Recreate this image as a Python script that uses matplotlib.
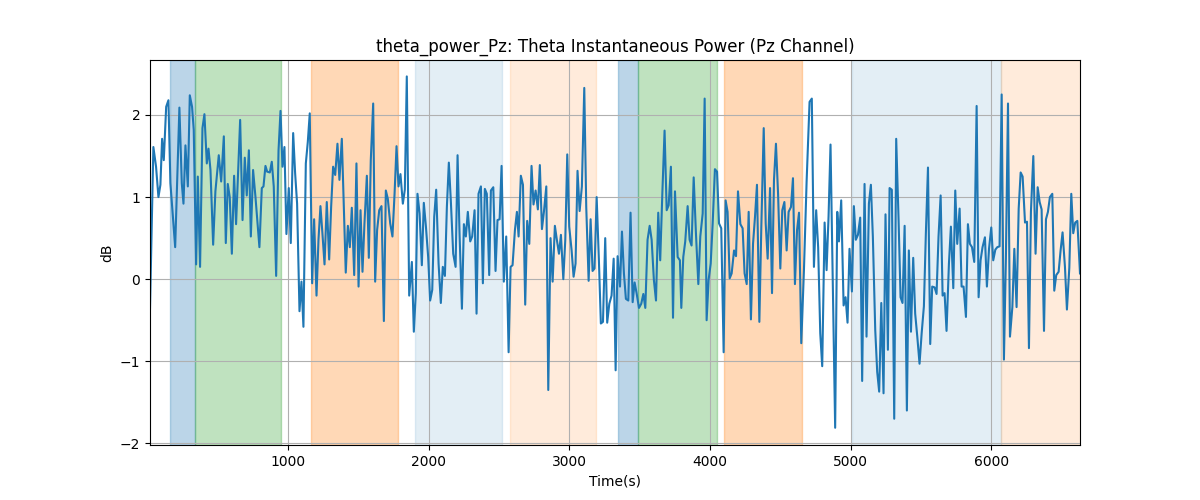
import numpy as np
import matplotlib
matplotlib.use("Agg")
import matplotlib.pyplot as plt

# time (s) and theta power (dB)
t = [18, 42, 61, 78, 92, 104, 116, 133, 149, 163, 197, 227, 244, 256, 270, 287, 301, 317, 329, 346,
     358, 374, 391, 405, 422, 434, 448, 467, 483, 507, 524, 543, 557, 571, 585, 600, 616, 630, 659, 676,
     692, 706, 721, 735, 751, 768, 796, 813, 825, 839, 851, 870, 884, 898, 915, 932, 946,
     960, 974, 988, 1005, 1019, 1036, 1050, 1064, 1081, 1095, 1109, 1126, 1140, 1154, 1171, 1185, 1202, 1216,
     1230, 1244, 1259, 1275, 1292, 1306, 1320, 1335, 1351, 1365, 1382, 1396, 1410, 1425, 1439, 1453, 1470,
     1486, 1501, 1515, 1529, 1543, 1560, 1574, 1588, 1605, 1619, 1633, 1648, 1664, 1681, 1695, 1709, 1726,
     1742, 1757, 1771, 1785, 1799, 1816, 1830, 1844, 1861,
     1880, 1894, 1908, 1920, 1935, 1951, 1965, 1980, 1996, 2010, 2025, 2039, 2053, 2070, 2086, 2100, 2115,
     2129, 2143, 2157, 2174, 2191, 2205, 2219, 2236, 2250, 2264, 2278, 2295, 2309, 2326, 2340, 2354, 2371,
     2385, 2399, 2413, 2430, 2442, 2459, 2475, 2489, 2504, 2518, 2534, 2551, 2568, 2582, 2596, 2613, 2627,
     2639, 2655, 2670, 2686, 2700, 2715, 2731, 2745, 2760, 2776, 2790, 2805,
     2819, 2836, 2850, 2866, 2881, 2897, 2911, 2926, 2940, 2957, 2971, 2985, 2999, 3016, 3030, 3044, 3058,
     3073, 3089, 3106, 3120, 3137, 3151, 3165, 3179, 3194, 3210, 3224, 3239, 3255, 3269, 3284, 3300, 3315,
     3329, 3343, 3360, 3374, 3388, 3402, 3419, 3435, 3450, 3464, 3478, 3495, 3511, 3526, 3540, 3556, 3571,
     3585, 3601, 3616, 3632, 3646, 3661, 3677, 3692, 3706, 3722, 3737, 3751,
     3770, 3786, 3796, 3810, 3824, 3841, 3855, 3869, 3884, 3900, 3917, 3931, 3948, 3962, 3976, 3990, 4005,
     4019, 4035, 4050, 4064, 4080, 4097, 4111, 4125, 4140, 4154, 4171, 4185, 4199, 4216, 4232, 4246, 4261,
     4275, 4291, 4306, 4320, 4334, 4351, 4365, 4382, 4396, 4410, 4427, 4441, 4455, 4469, 4484, 4500, 4514,
     4529, 4545, 4559, 4576, 4590, 4604, 4619, 4633, 4649, 4668, 4687,
     4708, 4724, 4739, 4755, 4769, 4784, 4798, 4815, 4829, 4843, 4857, 4874, 4890, 4905, 4917, 4933, 4950,
     4964, 4978, 4992, 5009, 5023, 5037, 5052, 5068, 5082, 5099, 5113, 5130, 5144, 5158, 5175, 5189, 5203,
     5218, 5234, 5248, 5265, 5277, 5293, 5310, 5324, 5341, 5355, 5369, 5384, 5400, 5414, 5429, 5445, 5459,
     5474, 5490, 5505, 5521, 5535, 5550, 5566, 5580, 5597, 5611, 5625,
     5640, 5654, 5668, 5682, 5699, 5713, 5730, 5744, 5758, 5775, 5789, 5803, 5820, 5834, 5848, 5863, 5879,
     5896, 5910, 5924, 5938, 5955, 5969, 5984, 6000, 6014, 6029, 6043, 6059, 6074, 6090, 6104, 6119, 6133,
     6150, 6164, 6180, 6195, 6209, 6223, 6240, 6254, 6268, 6282, 6299, 6315, 6330, 6344, 6358, 6375, 6389,
     6403, 6417, 6434, 6448, 6462, 6479, 6493, 6507, 6524, 6538, 6555, 6569, 6583, 6597, 6612, 6631]

power = [-0.36, 1.61, 1.37, 1.00, 1.15, 1.71, 1.45, 2.10, 2.18, 1.17, 0.39, 2.09, 1.17, 0.92, 1.63, 1.13, 2.24, 2.10, 1.82, 0.18,
         1.25, 0.15, 1.84, 2.01, 1.41, 1.59, 1.33, 0.42, 1.07, 1.51, 1.19, 1.74, 0.44, 1.16, 1.00, 0.31, 1.26, 0.67, 1.94, 0.72,
         1.48, 1.02, 1.57, 0.52, 1.33, 1.00, 0.39, 1.11, 1.13, 1.38, 1.31, 1.30, 1.43, 1.13, 0.04, 1.57, 2.05,
         1.37, 1.61, 0.55, 1.11, 0.44, 1.78, 1.29, 0.92, -0.39, -0.03, -0.58, 1.41, 1.67, 2.02, -0.05, 0.73, -0.20, 0.48,
         0.89, 0.56, 0.18, 0.94, 0.24, 0.88, 1.37, 1.27, 1.65, 1.21, 1.71, 0.88, 0.08, 0.65, 0.39, 0.87, 0.05,
         1.41, -0.09, 0.84, 0.09, 0.68, 1.26, 0.26, 1.45, 2.14, -0.03, 0.60, 0.84, 0.89, -0.51, 1.08, 0.98, 0.68,
         0.52, 1.04, 1.62, 1.13, 1.28, 0.92, 1.09, 2.47, -0.20,
         0.21, -0.64, -0.17, 1.04, 0.80, 0.17, 0.93, 0.64, 0.27, -0.26, -0.13, 0.76, 1.09, 0.19, -0.29, 0.15, 0.04,
         0.88, 1.42, 0.96, 0.31, 0.15, 1.51, 0.56, -0.36, 0.67, 0.52, 0.82, 0.46, 0.52, 0.84, -0.42, 1.04, 1.13,
         -0.05, 1.10, 1.04, 0.05, 1.08, 1.12, 0.10, 0.72, 0.73, 1.38, -0.03, 0.52, -0.89, 0.15, 0.17, 0.60, 0.82,
         0.52, 1.26, 1.15, -0.31, 0.71, 0.43, 1.38, 0.91, 1.08, 0.85, 1.39, 0.61,
         0.82, 1.13, -1.35, 0.50, -0.03, 0.65, 0.48, 0.31, 0.54, 0.00, 0.48, 1.52, 0.64, 0.35, 0.03, 0.19, 1.32,
         0.83, 1.13, 2.33, 0.88, -0.02, 0.73, 0.10, 0.13, 1.00, 0.23, -0.54, -0.52, 0.50, -0.53, -0.30, -0.20, 0.25,
         -1.11, 0.28, -0.09, 0.58, 0.07, -0.24, -0.26, 0.81, -0.28, -0.04, -0.17, -0.35, -0.30, -0.18, -0.35, 0.48, 0.65,
         0.48, -0.01, -0.26, 0.81, 0.23, 1.04, 1.81, 0.84, 0.90, 1.37, -0.47, 1.07,
         0.27, 0.23, -0.35, 0.27, 0.46, 0.89, 0.48, 0.41, 1.24, 0.56, -0.06, 0.52, 0.80, 2.20, -0.50, -0.01, 0.19,
         0.68, 1.34, 1.31, 0.68, 0.62, -0.89, 0.96, 0.82, 0.01, 0.07, 0.35, 0.28, 1.07, 0.67, 0.62, 0.07, -0.06,
         0.82, -0.49, 0.43, 0.76, 1.15, -0.52, 0.64, 1.84, 0.68, 0.25, 1.11, -0.17, 1.21, 1.65, 1.04, 0.13, 0.84,
         0.94, 0.35, 0.82, 0.88, 1.23, -0.06, 0.60, 0.81, -0.78, 0.11, 1.19,
         2.16, 2.20, 0.15, 0.84, 0.39, -0.66, -1.06, 0.69, 0.11, 0.76, 1.64, -0.13, -1.81, 0.82, 0.46, 0.96, -0.32,
         -0.22, -0.53, 0.37, -0.15, 0.89, 0.48, 0.54, 0.75, -1.24, 1.16, -0.70, 0.92, 1.15, 0.52, -0.62, -1.13, -1.37,
         -0.29, -1.39, 0.79, -0.86, 1.11, 1.09, -1.70, 1.71, 0.72, -0.22, -0.29, 0.65, -1.60, 0.35, -0.64, 0.26, -0.42,
         -0.70, -1.03, -0.66, -0.33, 0.56, 1.36, -0.79, -0.09, -0.10, -0.18, 0.52,
         1.02, -0.20, -0.17, -0.63, 0.19, 0.64, -0.11, 1.08, 0.43, 0.86, -0.09, -0.09, -0.46, 0.67, 0.43, 0.39, 0.21,
         2.11, -0.22, 0.23, 0.39, 0.51, -0.09, 0.37, 0.63, 0.23, 0.36, 0.39, 0.40, 2.25, -0.98, 0.25, 2.14, -0.70,
         -0.34, 0.37, -0.34, 0.86, 1.30, 1.25, 0.69, 0.70, -0.84, 0.82, 1.50, 0.31, 1.12, 0.94, 0.85, -0.63, 0.73,
         0.82, 1.00, 1.04, -0.14, 0.05, 0.09, 0.35, 0.57, 0.15, -0.37, 0.14, 1.04, 0.56, 0.69, 0.71, 0.07]

# shaded segments: start, end, colour, alpha
span_start = [158, 338, 1161, 1901, 2576, 3345, 3489, 4099, 5011, 6071]
span_end = [338, 946, 1785, 2518, 3186, 3489, 4047, 4651, 6071, 6640]
span_color = ['tab:blue', 'tab:green', 'tab:orange', 'tab:blue', 'tab:orange',
              'tab:blue', 'tab:green', 'tab:orange', 'tab:blue', 'tab:orange']
span_alpha = [0.3, 0.3, 0.3, 0.12, 0.15, 0.3, 0.3, 0.3, 0.12, 0.15]

fig, ax = plt.subplots(figsize=(12, 5), dpi=100)
for s, e, c, a in zip(span_start, span_end, span_color, span_alpha):
    ax.axvspan(s, e, color=c, alpha=a)
ax.plot(t, power, color='tab:blue')
ax.grid(True)
ax.set_xlim(t[0], t[-1])
ax.set_ylim(-2.02, 2.67)
ax.set_title('theta_power_Pz: Theta Instantaneous Power (Pz Channel)')
ax.set_xlabel('Time(s)')
ax.set_ylabel('dB')
fig.savefig('out.png')
